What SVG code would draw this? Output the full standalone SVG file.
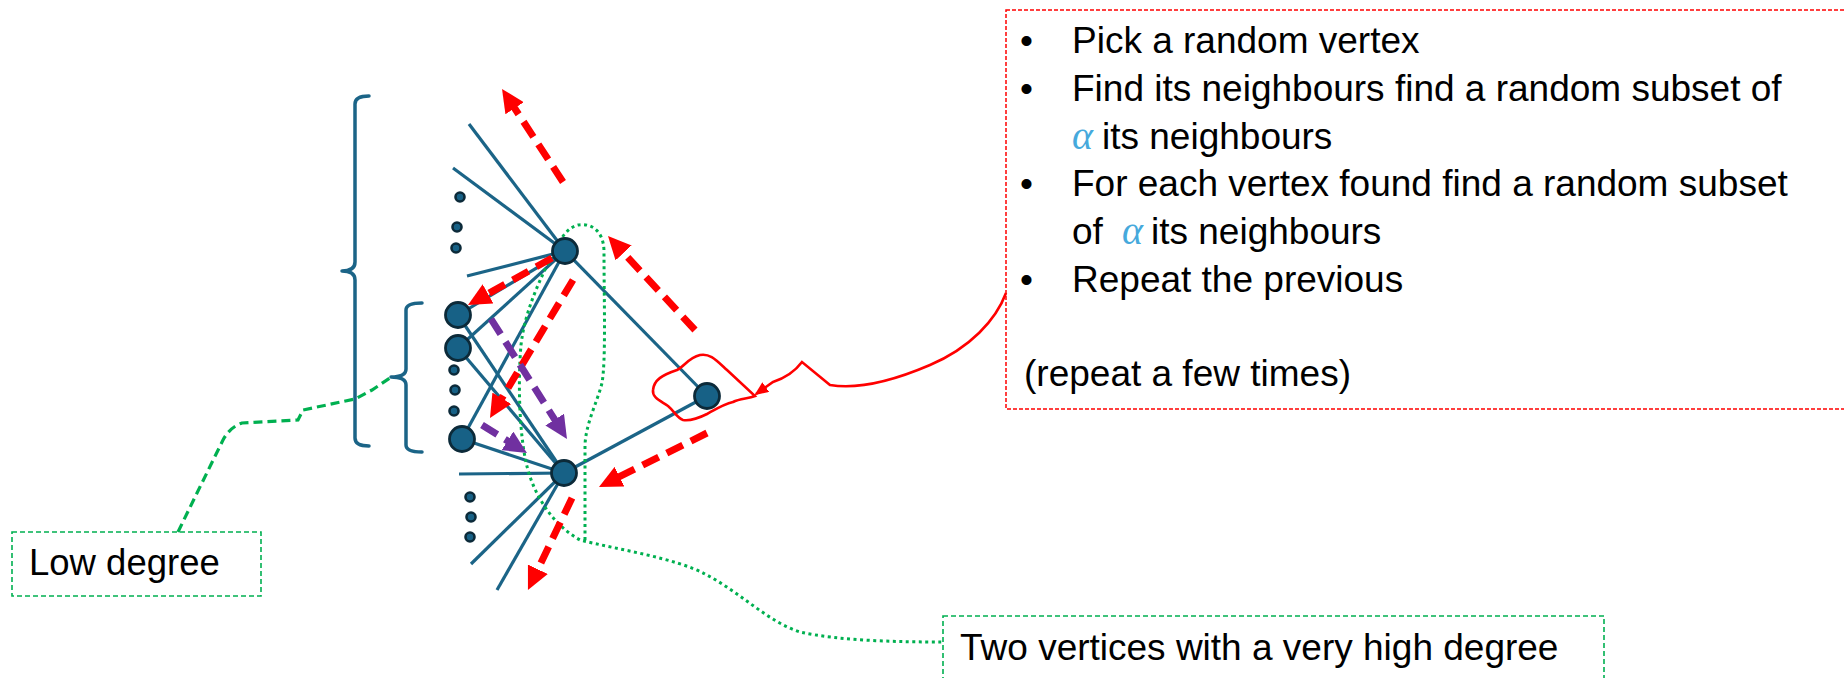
<svg xmlns="http://www.w3.org/2000/svg" width="1844" height="678" viewBox="0 0 1844 678">
<style>
.edge{stroke:#1b6487;stroke-width:3.2;fill:none}
.node{fill:#176186;stroke:#0c2a39;stroke-width:2.8}
.dot{fill:#176186;stroke:#0c2a39;stroke-width:2.6}
.br{stroke:#1b6487;stroke-width:3.5;fill:none;stroke-linecap:round;stroke-linejoin:round}
.ra{stroke:#ff0000;stroke-width:7;fill:none;stroke-dasharray:18 9;marker-end:url(#hr)}
.pa{stroke:#7030a0;stroke-width:7;fill:none;stroke-dasharray:18 9;marker-end:url(#hp)}
.txt{font-family:"Liberation Sans",Arial,sans-serif;font-size:37px;fill:#000}
.alpha{font-family:"Liberation Serif","DejaVu Serif",serif;font-style:italic;font-size:40px;fill:#46a9dc}
.gbox{fill:#fff;stroke:#00b050;stroke-width:1.6;stroke-dasharray:5 3}
.rbox{fill:#fff;stroke:#ff0000;stroke-width:1.5;stroke-dasharray:4 2}
</style>
<defs>
<marker id="hr" markerUnits="userSpaceOnUse" markerWidth="24" markerHeight="22" viewBox="0 0 24 22" refX="9" refY="11" orient="auto">
<path d="M0,0 L23,11 L0,22 z" fill="#ff0000"/>
</marker>
<marker id="hp" markerUnits="userSpaceOnUse" markerWidth="24" markerHeight="22" viewBox="0 0 24 22" refX="9" refY="11" orient="auto">
<path d="M0,0 L23,11 L0,22 z" fill="#7030a0"/>
</marker>
<marker id="hs" markerUnits="userSpaceOnUse" markerWidth="14" markerHeight="12" viewBox="0 0 14 12" refX="12" refY="6" orient="auto">
<path d="M0,0 L14,6 L0,12 z" fill="#ff0000"/>
</marker>
</defs>

<g id="text-box">
<rect class="rbox" x="1006" y="10" width="850" height="399"/>
<text class="txt" x="1020" y="53">•</text>
<text class="txt" x="1072" y="53">Pick a random vertex</text>
<text class="txt" x="1020" y="101">•</text>
<text class="txt" x="1072" y="101">Find its neighbours find a random subset of</text>
<text class="alpha" x="1072" y="149">α</text>
<text class="txt" x="1102" y="149">its neighbours</text>
<text class="txt" x="1020" y="196">•</text>
<text class="txt" x="1072" y="196">For each vertex found find a random subset</text>
<text class="txt" x="1072" y="244">of</text>
<text class="alpha" x="1122" y="244">α</text>
<text class="txt" x="1151" y="244">its neighbours</text>
<text class="txt" x="1020" y="292">•</text>
<text class="txt" x="1072" y="292">Repeat the previous</text>
<text class="txt" x="1024" y="386">(repeat a few times)</text>
</g>

<g id="low-degree-box">
<rect class="gbox" x="12" y="532" width="249" height="64"/>
<text class="txt" x="29" y="575" style="font-size:36.5px">Low degree</text>
</g>

<g id="high-degree-box">
<rect class="gbox" x="943" y="616" width="661" height="80"/>
<text class="txt" x="960" y="660">Two vertices with a very high degree</text>
</g>

<g id="brackets">
<path class="br" d="M369,96 Q355,96 355,104 L355,262 Q355,271 342,271 Q355,271 355,280 L355,438 Q355,446 369,446"/>
<path class="br" d="M422,303 Q406,303 406,310 L406,369 Q406,377 391,377 Q406,377 406,385 L406,445 Q406,452 422,452"/>
</g>

<g id="connectors">
<g id="edges">
<line class="edge" x1="565" y1="251" x2="469" y2="124"/>
<line class="edge" x1="565" y1="251" x2="453" y2="168"/>
<line class="edge" x1="565" y1="251" x2="467" y2="276"/>
<line class="edge" x1="565" y1="251" x2="458" y2="315"/>
<line class="edge" x1="565" y1="251" x2="458" y2="348"/>
<line class="edge" x1="565" y1="251" x2="462" y2="439"/>
<line class="edge" x1="565" y1="251" x2="707" y2="396"/>
<line class="edge" x1="564" y1="473" x2="458" y2="315"/>
<line class="edge" x1="564" y1="473" x2="458" y2="348"/>
<line class="edge" x1="564" y1="473" x2="462" y2="439"/>
<line class="edge" x1="564" y1="473" x2="459" y2="474"/>
<line class="edge" x1="564" y1="473" x2="471" y2="564"/>
<line class="edge" x1="564" y1="473" x2="497" y2="590"/>
<line class="edge" x1="564" y1="473" x2="707" y2="396"/>
</g>
<path id="low-degree-link" d="M178,532 L197,493 L223,440 Q230,427 242,423 L298,420 L303,410 L355,399 L372,390 L390,378" fill="none" stroke="#00b050" stroke-width="3.2" stroke-dasharray="9 5"/>
<path id="high-degree-outline" d="M585,540 L585,447 C585,425 597,403 602,383 C606,360 604,300 604,252 C604,228 588,223 578,225 C566,228 560,240 552,255 C540,280 525,310 521,345 C518,380 519,430 526,462 C533,495 553,525 580,540 C620,550 675,558 705,574 C740,592 768,622 800,632 C840,641 900,642 943,642" fill="none" stroke="#00b050" stroke-width="3" stroke-dasharray="3 3.5"/>
<path id="red-loop" d="M653,390 C654,380 662,375 677,370 C685,366 688,358 700,355 C710,353 716,360 727,370 L755,396 C748,399 740,398 733,402 C724,404 716,409 707,414 C699,418 690,421 683,420 C677,418 674,411 668,406 C661,401 652,398 653,390 Z" fill="none" stroke="#ff0000" stroke-width="2.6"/>
<path id="callout-link" d="M1006,293 C996,320 970,348 930,365 C895,380 860,390 830,385 L802,362 C796,370 785,378 773,382 L756,394" fill="none" stroke="#ff0000" stroke-width="2.6" marker-end="url(#hs)"/>
<path class="ra" d="M563,182 L509.7,100.7"/>
<path class="ra" d="M695,330 L617.5,246.3"/>
<path class="ra" d="M552,258 L480.2,298.2"/>
<path class="ra" d="M573,280 L497.2,406"/>
<path class="ra" d="M707,433 L611.5,480.7"/>
<path class="ra" d="M572,498 L534,577.4"/>
<path class="pa" d="M491,319 L559.5,427.2"/>
<path class="pa" d="M482,425 L515.1,445.6"/>
</g>

<g id="node-hub-top"><circle class="node" cx="565" cy="251" r="12.5"/></g>
<g id="node-hub-bottom"><circle class="node" cx="564" cy="473" r="12.5"/></g>
<g id="node-right"><circle class="node" cx="707" cy="396" r="12.5"/></g>
<g id="node-l1"><circle class="node" cx="458" cy="315" r="12.5"/></g>
<g id="node-l2"><circle class="node" cx="458" cy="348" r="12.5"/></g>
<g id="node-l3"><circle class="node" cx="462" cy="439" r="12.5"/></g>
<g id="dots-top">
<circle class="dot" cx="460" cy="197" r="4.5"/>
<circle class="dot" cx="457" cy="227" r="4.5"/>
<circle class="dot" cx="456" cy="248" r="4.5"/>
</g>
<g id="dots-mid">
<circle class="dot" cx="454" cy="370" r="4.5"/>
<circle class="dot" cx="455" cy="390" r="4.5"/>
<circle class="dot" cx="454" cy="411" r="4.5"/>
</g>
<g id="dots-bottom">
<circle class="dot" cx="470" cy="497" r="4.5"/>
<circle class="dot" cx="471" cy="517" r="4.5"/>
<circle class="dot" cx="470" cy="537" r="4.5"/>
</g>
</svg>
